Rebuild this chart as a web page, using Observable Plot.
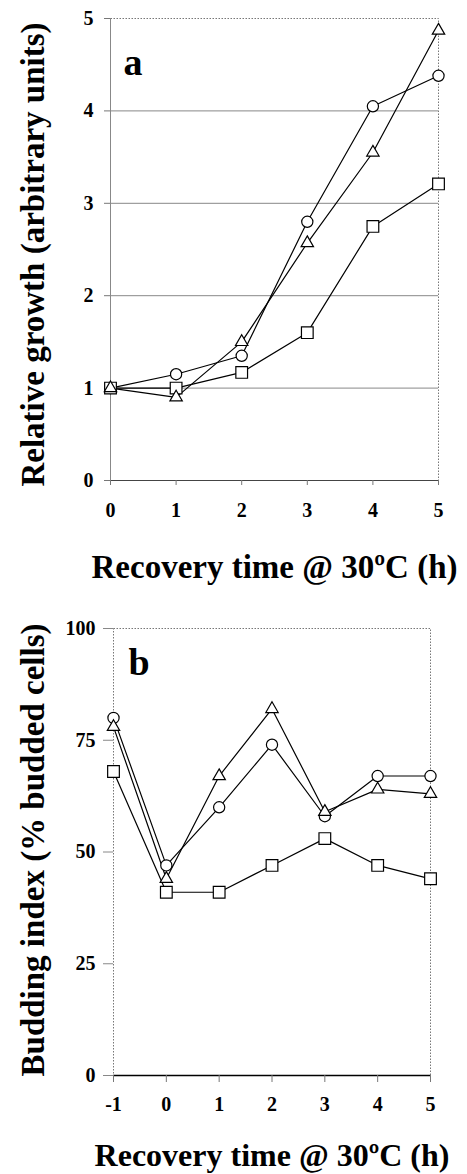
<!DOCTYPE html>
<html>
<head>
<meta charset="utf-8">
<script src="https://cdn.jsdelivr.net/npm/d3@7"></script>
<script src="https://cdn.jsdelivr.net/npm/@observablehq/plot@0.6"></script>
<style>
  html, body { margin: 0; padding: 0; background: #fff; }
  #chart svg { display: block; }
</style>
</head>
<body>
<div id="chart"></div>
<script>
// ---- Panel a data ----
const timeA = [0, 1, 2, 3, 4, 5];
const circleA = [1.0, 1.15, 1.35, 2.8, 4.05, 4.38];
const triangleA = [1.0, 0.9, 1.5, 2.57, 3.55, 4.87];
const squareA = [1.0, 1.0, 1.17, 1.6, 2.75, 3.21];
const xTicksA = [0, 1, 2, 3, 4, 5];
const yTicksA = [0, 1, 2, 3, 4, 5];
const gridA = [1, 2, 3, 4];

// ---- Panel b data ----
const timeB = [-1, 0, 1, 2, 3, 4, 5];
const circleB = [80, 47, 60, 74, 58, 67, 67];
const triangleB = [78, 44, 67, 82, 59, 64, 63];
const squareB = [68, 41, 41, 47, 53, 47, 44];
const xTicksB = [-1, 0, 1, 2, 3, 4, 5];
const yTicksB = [0, 25, 50, 75, 100];

const xTitle = "Recovery time @ 30ºC (h)";
const yTitleA = "Relative growth (arbitrary units)";
const yTitleB = "Budding index (% budded cells)";

const font = "'Liberation Serif', 'Times New Roman', serif";
const fmt = d => String(d);

function rows(times, values) {
  return times.map((t, i) => ({x: t, y: values[i]}));
}

function seriesMarks(series) {
  const marks = [];
  for (const s of series) {
    marks.push(Plot.line(s.data, {x: "x", y: "y", stroke: "black", strokeWidth: 1.2}));
  }
  for (const s of series) {
    marks.push(Plot.dot(s.data, {x: "x", y: "y", symbol: s.symbol, r: s.r, fill: "white", stroke: "black", strokeWidth: 1.2}));
  }
  return marks;
}

const style = {fontFamily: font, fontWeight: "bold", background: "white", color: "black", overflow: "visible"};

const seriesA = [
  {data: rows(timeA, circleA), symbol: "circle", r: 5.6},
  {data: rows(timeA, squareA), symbol: "square", r: 6.6},
  {data: rows(timeA, triangleA), symbol: "triangle", r: 4.6}
];

const plotA = Plot.plot({
  width: 467, height: 600,
  marginLeft: 110, marginRight: 29, marginTop: 18, marginBottom: 120,
  x: {domain: [0, 5]},
  y: {domain: [0, 5]},
  style,
  marks: [
    Plot.gridY(gridA, {stroke: "#888", strokeOpacity: 1, strokeWidth: 1}),
    Plot.frame({stroke: "#777", strokeDasharray: "1.5,1.5"}),
    Plot.ruleX([0], {stroke: "#888"}),
    Plot.ruleY([0], {stroke: "#444", strokeWidth: 1.2}),
    Plot.axisY(yTicksA, {tickSize: 6, tickPadding: 11, tickFormat: fmt, fontSize: 20, fontWeight: "bold", label: null, stroke: "#777", fill: "black"}),
    Plot.axisX(xTicksA, {tickSize: 5, tickPadding: 17, tickFormat: fmt, fontSize: 20, fontWeight: "bold", label: null, stroke: "#777", fill: "black"}),
    ...seriesMarks(seriesA),
    Plot.text(["a"], {frameAnchor: "top-left", dx: 13, dy: 30, fontSize: 38, fontWeight: "bold", fill: "black", textAnchor: "start", lineAnchor: "top"}),
    Plot.text([xTitle], {frameAnchor: "bottom", dy: 87, fontSize: 33, fontWeight: "bold", fill: "black", textAnchor: "middle", lineAnchor: "middle"}),
    Plot.text([yTitleA], {frameAnchor: "left", dx: -77, dy: 5, rotate: -90, fontSize: 33, fontWeight: "bold", fill: "black", textAnchor: "middle", lineAnchor: "middle"})
  ]
});

const seriesB = [
  {data: rows(timeB, circleB), symbol: "circle", r: 5.6},
  {data: rows(timeB, squareB), symbol: "square", r: 6.6},
  {data: rows(timeB, triangleB), symbol: "triangle", r: 4.6}
];

const plotB = Plot.plot({
  width: 467, height: 574,
  marginLeft: 113, marginRight: 37, marginTop: 28, marginBottom: 99,
  x: {domain: [-1, 5]},
  y: {domain: [0, 100]},
  style,
  marks: [
    Plot.frame({stroke: "#777", strokeDasharray: "1.5,1.5"}),
    Plot.ruleY([0], {stroke: "black", strokeWidth: 1.3}),
    Plot.axisY(yTicksB, {tickSize: 10, tickPadding: 8, tickFormat: fmt, fontSize: 20, fontWeight: "bold", label: null, stroke: "#888", fill: "black"}),
    Plot.axisX(xTicksB, {tickSize: 7, tickPadding: 14, tickFormat: fmt, fontSize: 20, fontWeight: "bold", label: null, stroke: "#777", fill: "black"}),
    ...seriesMarks(seriesB),
    Plot.text(["b"], {frameAnchor: "top-left", dx: 15, dy: 20, fontSize: 38, fontWeight: "bold", fill: "black", textAnchor: "start", lineAnchor: "top"}),
    Plot.text([xTitle], {frameAnchor: "bottom", dy: 80, fontSize: 32, fontWeight: "bold", fill: "black", textAnchor: "middle", lineAnchor: "middle"}),
    Plot.text([yTitleB], {frameAnchor: "left", dx: -80, dy: -2, rotate: -90, fontSize: 33, fontWeight: "bold", fill: "black", textAnchor: "middle", lineAnchor: "middle"})
  ]
});

const chart = document.getElementById("chart");
chart.appendChild(plotA);
chart.appendChild(plotB);
</script>
</body>
</html>
